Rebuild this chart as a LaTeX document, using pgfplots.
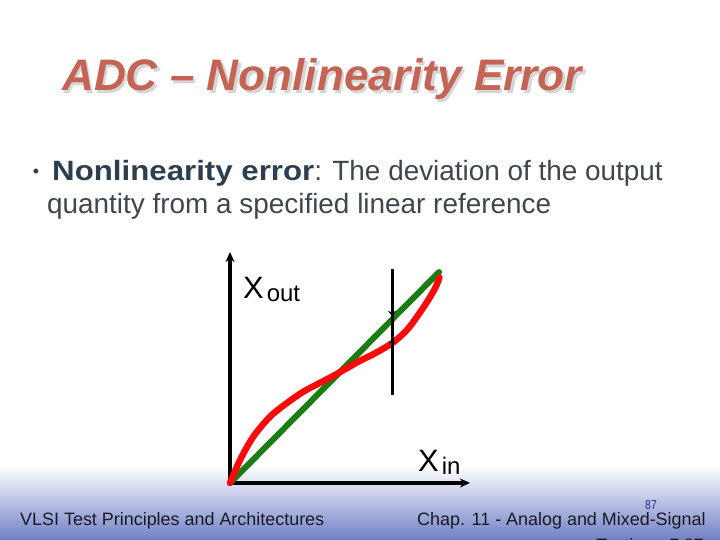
\documentclass[border=0pt]{standalone}
\usepackage{fontspec}
\setmainfont{Liberation Sans}
\usepackage{pgfplots}
\pgfplotsset{compat=1.18}
\usetikzlibrary{arrows.meta}
\definecolor{titlecol}{RGB}{196,100,84}
\definecolor{darkslate}{RGB}{45,62,78}
\definecolor{bodygrey}{RGB}{62,70,78}
\definecolor{refgreen}{RGB}{25,125,20}
\definecolor{curvered}{RGB}{250,10,10}
\definecolor{footblue}{RGB}{112,128,198}
\definecolor{foottext}{RGB}{25,25,35}
\definecolor{pagenum}{RGB}{40,40,160}

\begin{document}
\begin{tikzpicture}[x=1bp,y=1bp]
\path[use as bounding box] (0,0) rectangle (720,540);
\clip (0,0) rectangle (720,540);
\fill[white] (0,0) rectangle (720,540);
\shade[top color=white, bottom color=footblue] (0,0) rectangle (720,74);

% title with shadow
\node[anchor=base west, inner sep=0, text=black!16] at (64.5,446.5)
  {\fontsize{44.3}{50}\selectfont\bfseries\itshape ADC – Nonlinearity Error};
\node[anchor=base west, inner sep=0, text=titlecol] at (62,449)
  {\fontsize{44.3}{50}\selectfont\bfseries\itshape ADC – Nonlinearity Error};

% bullet text
\node[anchor=center, inner sep=0, text=darkslate] at (36,367)
  {\fontsize{18}{18}\selectfont •};
\node[anchor=base west, inner sep=0, text=bodygrey] at (52,359)
  {\fontsize{28}{33}\selectfont\textcolor{darkslate}{\scalebox{1.12}[1]{\bfseries Nonlinearity error}}: The deviation of the output};
\node[anchor=base west, inner sep=0, text=bodygrey] at (47,326)
  {\fontsize{28}{33}\selectfont quantity from a specified linear reference};

% chart
\begin{axis}[
  at={(230bp,57bp)}, anchor=origin,
  scale only axis, width=240bp, height=231bp,
  xmin=0, xmax=1.148, ymin=0, ymax=1.095,
  axis lines=left,
  axis line style={line width=3.2bp, -{Stealth[length=10bp,width=9bp]}},
  x axis line style={line width=3.2bp},
  y axis line style={line width=3.2bp},
  xtick=\empty, ytick=\empty,
  clip=false,
]
\addplot[refgreen, line width=6bp, line cap=round] coordinates {(0,0) (1.0,1.0)};
\addplot[curvered, line width=6.5bp, smooth, line cap=round] coordinates {
  (0,0) (0.048,0.109) (0.111,0.219) (0.191,0.314) (0.271,0.378)
  (0.351,0.433) (0.431,0.475) (0.502,0.512) (0.614,0.575) (0.694,0.615)
  (0.781,0.667) (0.853,0.733) (0.933,0.844) (0.981,0.923) (1.002,0.975)
};
\addplot[black, line width=3bp] coordinates {(0.775,0.417) (0.775,1.014)};
\draw[black, line width=1bp, -{Stealth[length=5bp,width=8bp]}] (axis cs:0.775,0.84) -- (axis cs:0.775,0.792);
\draw[black, line width=1bp, -{Stealth[length=2bp,width=8bp]}] (axis cs:0.775,0.62) -- (axis cs:0.775,0.672);
\end{axis}

% axis labels
\node[anchor=base west, inner sep=0] at (243,241)
  {\fontsize{31}{31}\selectfont X\hspace{3bp}\raisebox{-3bp}{\fontsize{24}{24}\selectfont out}};
\node[anchor=base west, inner sep=0] at (418,68)
  {\fontsize{31}{31}\selectfont X\hspace{3bp}\raisebox{-3bp}{\fontsize{24}{24}\selectfont in}};

% footer
\node[anchor=base west, inner sep=0, text=foottext] at (20,14)
  {\fontsize{18}{20}\selectfont VLSI Test Principles and Architectures};
\node[anchor=base west, inner sep=0, text=foottext] at (417,14)
  {\fontsize{18}{20}\selectfont Chap. 11 - Analog and Mixed-Signal};
\node[anchor=base east, inner sep=0, text=foottext] at (704,-12)
  {\fontsize{18}{20}\selectfont Testing - P.87};
\node[anchor=center, inner sep=0, text=pagenum] at (651,35)
  {\scalebox{0.8}[1]{\fontsize{13}{13}\selectfont 87}};
\end{tikzpicture}
\end{document}
